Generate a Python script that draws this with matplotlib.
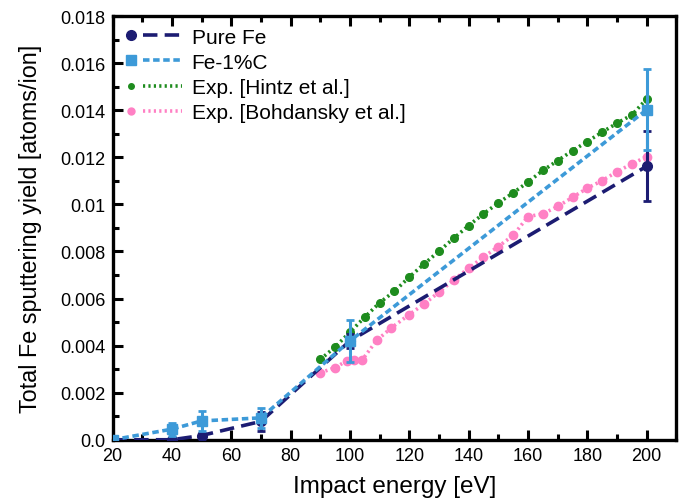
import numpy as np
import matplotlib.pyplot as plt
from matplotlib.lines import Line2D
from matplotlib.legend_handler import HandlerBase
from matplotlib.ticker import MultipleLocator

plt.rcParams['font.family'] = ['Liberation Sans', 'DejaVu Sans']

# simulation results
energy_sim = [20, 40, 50, 70, 100, 200]
pure_fe = [0.0, 0.0, 0.00018, 0.00078, 0.0042, 0.01162]
pure_fe_err = [0.0, 0.00005, 0.0001, 0.00042, 0.0003, 0.00148]
fe_1c = [0.0, 0.00045, 0.0008, 0.00093, 0.0042, 0.01402]
fe_1c_err = [0.0, 0.00028, 0.00042, 0.00044, 0.00088, 0.00172]

# experiments
energy_hintz = [90, 95, 100, 105, 110, 115, 120, 125, 130, 135, 140, 145,
                150, 155, 160, 165, 170, 175, 180, 185, 190, 195, 200]
hintz = [0.00341, 0.00394, 0.00457, 0.00521, 0.00582, 0.00631, 0.00691,
         0.00747, 0.00801, 0.00856, 0.0091, 0.0096, 0.01006, 0.01049,
         0.01095, 0.01144, 0.01186, 0.01228, 0.01267, 0.01307, 0.01345,
         0.0138, 0.01448]
energy_bohd = [90, 95, 99, 101.5, 104, 109, 114, 120, 125, 130, 135, 140,
               145, 150, 155, 160, 165, 170, 175, 180, 185, 190, 195, 200]
bohd = [0.00285, 0.00306, 0.00336, 0.00337, 0.00337, 0.00422, 0.00476,
        0.00532, 0.00577, 0.00627, 0.00679, 0.00729, 0.00776, 0.00821,
        0.00868, 0.00948, 0.0096, 0.00991, 0.0103, 0.01069, 0.01101,
        0.01139, 0.01172, 0.01203]

ytick_vals = [0.0, 0.002, 0.004, 0.006, 0.008, 0.01, 0.012, 0.014, 0.016, 0.018]
ytick_labels = ['0.0', '0.002', '0.004', '0.006', '0.008', '0.01', '0.012',
                '0.014', '0.016', '0.018']

c_pure = '#1c1c72'
c_fec = '#3d9ad8'
c_hintz = '#1e8c1e'
c_bohd = '#ff80c4'

ls_pure = (0, (4, 2))
ls_fec = (0, (1.8, 1.0))
ls_dot = (0, (0.6, 0.9))

fig = plt.figure(figsize=(6.86, 5.02), dpi=100)
ax = fig.add_axes([0.164, 0.122, 0.822, 0.844])

ax.plot(energy_hintz, hintz, linestyle=ls_dot, lw=2.6, color=c_hintz,
        marker='o', ms=5.5, zorder=2)
ax.plot(energy_bohd, bohd, linestyle=ls_dot, lw=2.6, color=c_bohd,
        marker='o', ms=6, zorder=2)
ax.errorbar(energy_sim, pure_fe, yerr=pure_fe_err, color=c_pure, lw=2.6,
            linestyle=ls_pure, marker='o', ms=7, capsize=3, capthick=2,
            elinewidth=2.2, zorder=3)
ax.errorbar(energy_sim, fe_1c, yerr=fe_1c_err, color=c_fec, lw=2.6,
            linestyle=ls_fec, marker='s', ms=6.5, capsize=3, capthick=2,
            elinewidth=2.2, zorder=4)

ax.set_xlim(20, 210)
ax.set_ylim(0, 0.018)
ax.set_xticks(range(20, 201, 20))
ax.xaxis.set_minor_locator(MultipleLocator(10))
ax.set_yticks(ytick_vals)
ax.set_yticklabels(ytick_labels)
ax.yaxis.set_minor_locator(MultipleLocator(0.001))
ax.tick_params(which='both', direction='in', top=True, right=False,
               labelsize=13, width=2.2, pad=5)
ax.tick_params(which='major', length=7)
ax.tick_params(which='minor', length=4)
for s in ax.spines.values():
    s.set_linewidth(2.4)

ax.set_xlabel('Impact energy [eV]', fontsize=17.5, labelpad=8)
ax.set_ylabel('Total Fe sputtering yield [atoms/ion]', fontsize=16.8, labelpad=13)


# legend handle: marker on the left, line segment after it
class MarkerThenLine(HandlerBase):
    def create_artists(self, legend, orig, xdescent, ydescent, width, height,
                       fontsize, trans):
        color, marker, ms, ls = orig
        y = height / 2 - ydescent
        x0 = -xdescent
        m = Line2D([x0 + 0.12 * width], [y], color=color, marker=marker,
                   ms=ms, linestyle='none', transform=trans)
        l = Line2D([x0 + 0.33 * width, x0 + width], [y, y], color=color,
                   lw=2.6, linestyle=ls, transform=trans)
        return [m, l]


handles = [(c_pure, 'o', 7, ls_pure),
           (c_fec, 's', 6.5, ls_fec),
           (c_hintz, 'o', 4, ls_dot),
           (c_bohd, 'o', 5, ls_dot)]
labels = ['Pure Fe', 'Fe-1%C', 'Exp. [Hintz et al.]', 'Exp. [Bohdansky et al.]']
ax.legend(handles, labels, loc='upper left', frameon=False, fontsize=15,
          handler_map={tuple: MarkerThenLine()},
          handlelength=2.8, handletextpad=0.45, labelspacing=0.3,
          borderaxespad=0.3, borderpad=0.25)

fig.savefig('out.png', dpi=100)
